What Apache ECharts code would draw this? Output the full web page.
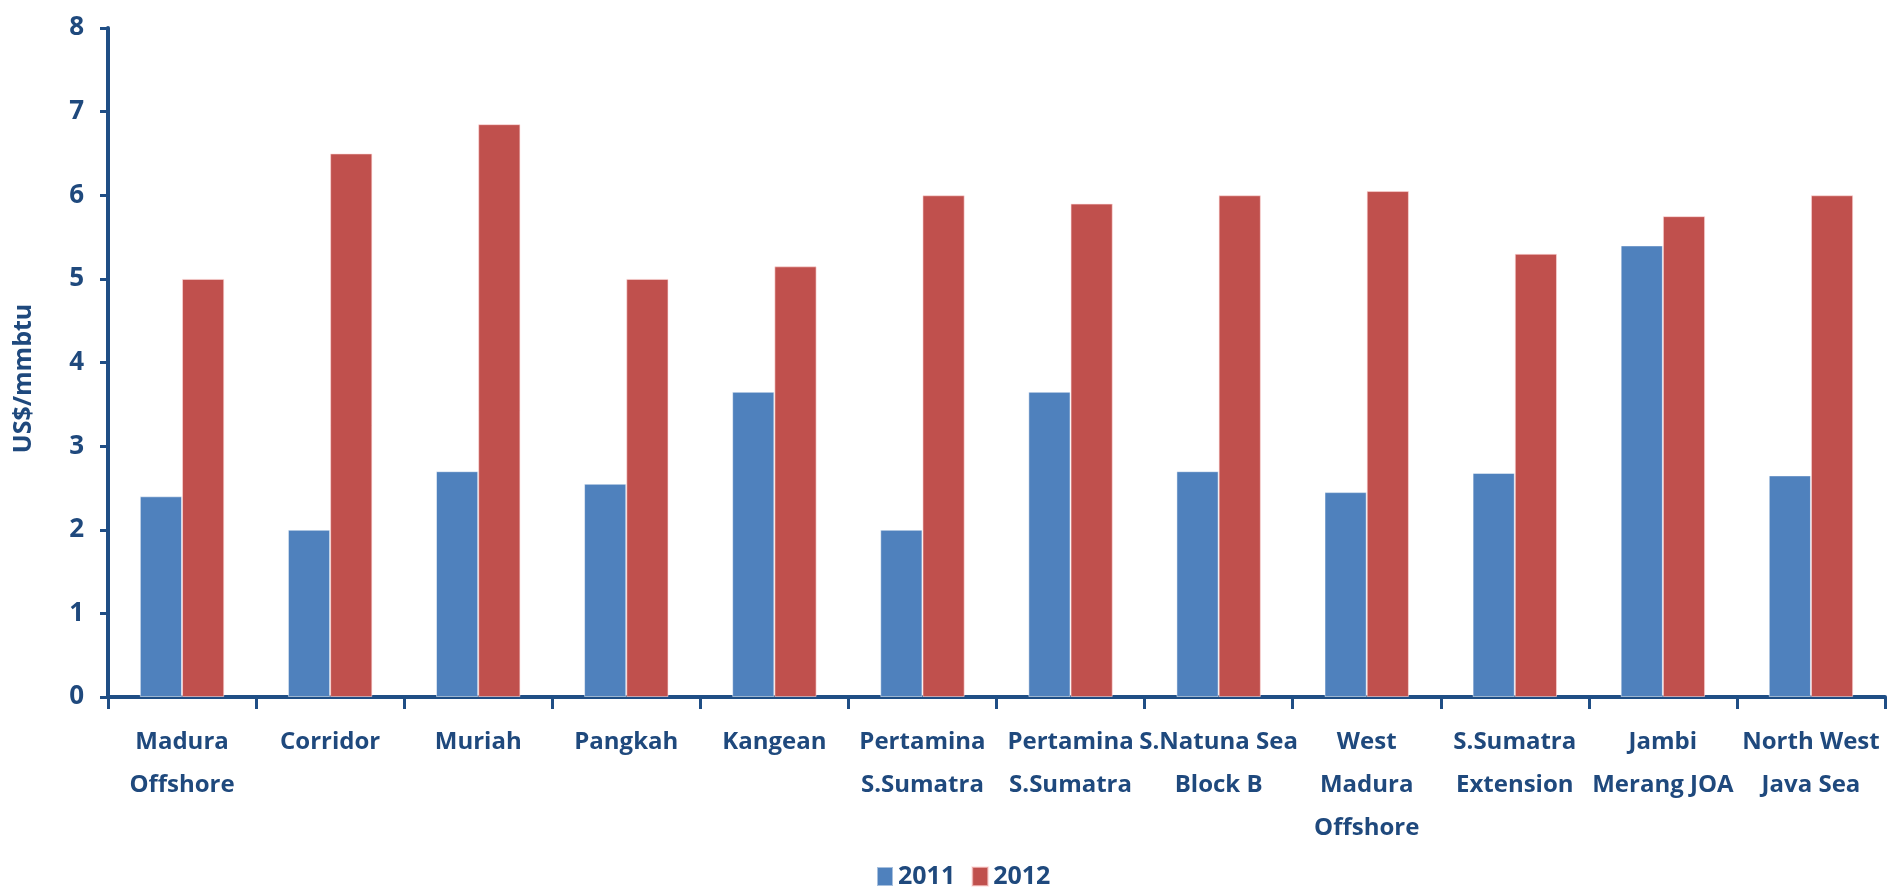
<!DOCTYPE html>
<html>
<head>
<meta charset="utf-8">
<script src="https://cdn.jsdelivr.net/npm/echarts@6/dist/echarts.min.js"></script>
<style>html,body{margin:0;padding:0;background:#fff}#c{width:1892px;height:890px}</style>
</head>
<body>
<div id="c"></div>
<script>
const categories = ["Madura\nOffshore","Corridor","Muriah","Pangkah","Kangean","Pertamina\nS.Sumatra","Pertamina\nS.Sumatra","S.Natuna Sea\nBlock B","West\nMadura\nOffshore","S.Sumatra\nExtension","Jambi\nMerang JOA","North West\nJava Sea"];
const values2011 = [2.4, 2.0, 2.7, 2.55, 3.65, 2.0, 3.65, 2.7, 2.45, 2.68, 5.4, 2.65];
const values2012 = [5.0, 6.5, 6.85, 5.0, 5.15, 6.0, 5.9, 6.0, 6.05, 5.3, 5.75, 6.0];
const yTicks = [0,1,2,3,4,5,6,7,8];

const axisColor = '#1F4E85';
const textColor = '#1F497D';
const font = 'Open Sans';

const chart = echarts.init(document.getElementById('c'));
chart.setOption({
  animation: false,
  textStyle: {fontFamily: font},
  grid: {left: 108, right: 7, top: 28, bottom: 193, containLabel: false},
  legend: {
    data: ['2011','2012'],
    bottom: 1,
    padding: 0,
    left: 876,
    itemWidth: 16, itemHeight: 19, itemGap: 16,
    icon: 'rect',
    textStyle: {color: textColor, fontFamily: font, fontWeight: 'bold', fontSize: 25}
  },
  xAxis: {
    type: 'category',
    data: categories,
    axisLine: {lineStyle: {color: axisColor, width: 4}},
    axisTick: {show: true, length: 12, lineStyle: {color: axisColor, width: 3}, alignWithLabel: false},
    axisLabel: {color: textColor, fontFamily: font, fontWeight: 'bold', fontSize: 24, lineHeight: 43, margin: 24, interval: 0},
    splitLine: {show: false}
  },
  yAxis: {
    type: 'value',
    min: yTicks[0], max: yTicks[yTicks.length-1], interval: 1,
    name: 'US$/mmbtu',
    nameLocation: 'middle',
    nameGap: 72,
    nameTextStyle: {color: textColor, fontFamily: font, fontWeight: 'bold', fontSize: 25, padding: [0, 32, 0, 0]},
    axisLine: {show: true, lineStyle: {color: axisColor, width: 4}},
    axisTick: {show: true, length: 8, lineStyle: {color: axisColor, width: 3}},
    axisLabel: {color: textColor, fontFamily: font, fontWeight: 'bold', fontSize: 26, margin: 24},
    splitLine: {show: false}
  },
  series: [
    {name: '2011', type: 'bar', data: values2011, barGap: '0%', barCategoryGap: '43%',
     itemStyle: {color: '#4F81BD', borderColor: 'rgba(255,255,255,0.5)', borderWidth: 1}},
    {name: '2012', type: 'bar', data: values2012, barGap: '0%', barCategoryGap: '43%',
     itemStyle: {color: '#C0504D', borderColor: 'rgba(255,220,220,0.6)', borderWidth: 1}}
  ]
});
</script>
</body>
</html>
